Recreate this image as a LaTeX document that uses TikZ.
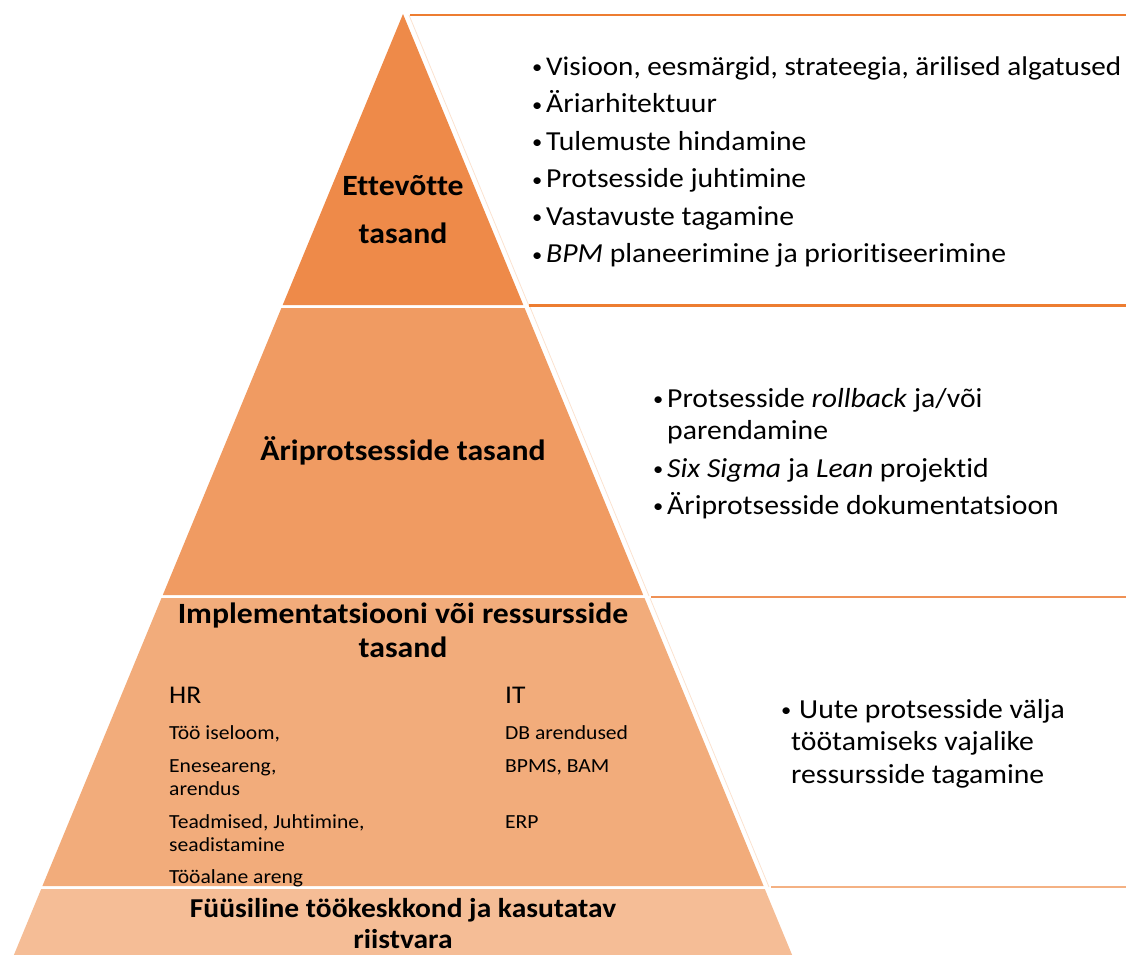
\documentclass[tikz,border=0pt]{standalone}
\usepackage{fontspec}
\setmainfont{Carlito}[FakeStretch=1.08, Ligatures=NoCommon]
\definecolor{tierA}{HTML}{EE8A49}
\definecolor{tierB}{HTML}{F09B62}
\definecolor{tierC}{HTML}{F2AC7B}
\definecolor{tierD}{HTML}{F5BD96}
\definecolor{ruleA}{HTML}{ED7D31}
\definecolor{ruleB}{HTML}{EF9155}
\definecolor{ruleC}{HTML}{F4B183}
\definecolor{edgeline}{HTML}{FBE2D0}
% list bullet: a small dot in a fixed-width box
\newcommand\listdot[1]{\makebox[#1][l]{\raisebox{1.5pt}{\fontsize{19}{19}\selectfont •}}}
\tikzset{
  boxrule/.style={line width=2.4pt},
  boxedge/.style={line width=0.8pt, draw=edgeline},
  title/.style={font=\fontsize{29.4}{34}\selectfont\bfseries, align=center, inner sep=0pt, anchor=base},
  smalltitle/.style={title, font=\fontsize{27.3}{32}\selectfont\bfseries},
  bullet/.style={font=\fontsize{27.5}{33}\selectfont, inner sep=0pt, anchor=base west},
  head/.style={font=\fontsize{25.5}{30}\selectfont, inner sep=0pt, anchor=base west},
  item/.style={font=\fontsize{20}{24}\selectfont, inner sep=0pt, anchor=base west},
}
\begin{document}
\begin{tikzpicture}[x=1pt,y=-1pt]
\useasboundingbox (0,0) rectangle (1126,954);
\begin{scope}
\clip (0,0) rectangle (1126,954);
% pyramid levels (sides follow x = 403 +/- 0.4135 (y - 14))
\fill[tierA] (403,14) -- (523.3,305) -- (282.7,305) -- cycle;
\fill[tierB] (281.4,308) -- (524.6,308) -- (643.2,595) -- (162.8,595) -- cycle;
\fill[tierC] (161.5,598) -- (644.5,598) -- (763.6,886) -- (42.4,886) -- cycle;
\fill[tierD] (41.2,889) -- (764.8,889) -- (794.2,960) -- (11.8,960) -- cycle;
% text panels to the right of the pyramid
\draw[boxedge] (409,15) -- (529,306);
\draw[boxedge] (530,307) -- (649,596);
\draw[boxedge] (650,598) -- (769,887);
\draw[boxrule, ruleA] (410,15) -- (1126,15);
\draw[boxrule, ruleA] (529,305.5) -- (1126,305.5);
\draw[boxrule, ruleB] (651,597) -- (1126,597);
\draw[boxrule, ruleC] (771,887) -- (1126,887);
\end{scope}

% level titles
\node[title] (t1a) at (403,195) {Ettevõtte};
\node[title] (t1b) at (403,243) {tasand};
\node[title] (t2) at (403,460) {Äriprotsesside tasand};
\node[title] (t3a) at (403,623) {Implementatsiooni või ressursside};
\node[title] (t3b) at (403,657) {tasand};
\node[smalltitle] (t4a) at (403,917) {Füüsiline töökeskkond ja kasutatav};
\node[smalltitle] (t4b) at (403,948) {riistvara};

% enterprise level
\node[bullet, font=\fontsize{27}{33}\selectfont] (e1) at (532,75) {\listdot{14pt}Visioon, eesmärgid, strateegia, ärilised algatused};
\node[bullet] (e2) at (532,112.5) {\listdot{14pt}Äriarhitektuur};
\node[bullet] (e3) at (532,150) {\listdot{14pt}Tulemuste hindamine};
\node[bullet] (e4) at (532,187.5) {\listdot{14pt}Protsesside juhtimine};
\node[bullet] (e5) at (532,225) {\listdot{14pt}Vastavuste tagamine};
\node[bullet] (e6) at (532,262.5) {\listdot{14pt}\textit{BPM} planeerimine ja prioritiseerimine};

% business process level
\node[bullet] (b1) at (653,407) {\listdot{14pt}Protsesside \textit{rollback} ja/või};
\node[bullet] (b1b) at (667,439) {parendamine};
\node[bullet] (b2) at (653,477) {\listdot{14pt}\textit{Six Sigma} ja \textit{Lean} projektid};
\node[bullet] (b3) at (653,514) {\listdot{14pt}Äriprotsesside dokumentatsioon};

% resource level
\node[bullet] (r1) at (781,718) {\listdot{18pt}Uute protsesside välja};
\node[bullet] (r1b) at (791,750) {töötamiseks vajalike};
\node[bullet] (r1c) at (791,783) {ressursside tagamine};

% HR and IT columns
\node[head] (hr) at (169,703) {HR};
\node[item] (hr1) at (169,739) {Töö iseloom,};
\node[item] (hr2) at (169,772) {Eneseareng,};
\node[item] (hr2b) at (169,795) {arendus};
\node[item] (hr3) at (169,828) {Teadmised, Juhtimine,};
\node[item] (hr3b) at (169,851) {seadistamine};
\node[item] (hr4) at (169,883) {Tööalane areng};
\node[head] (it) at (505,703) {IT};
\node[item] (it1) at (505,739) {DB arendused};
\node[item] (it2) at (505,772) {BPMS, BAM};
\node[item] (it3) at (505,828) {ERP};
\end{tikzpicture}
\end{document}
